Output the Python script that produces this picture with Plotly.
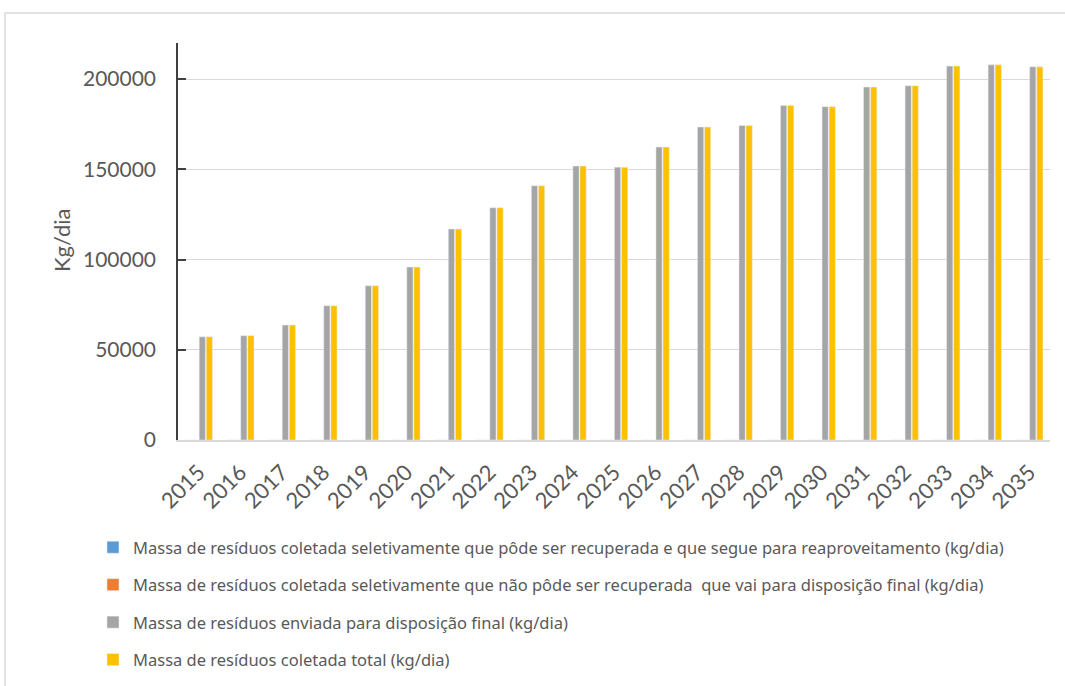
import plotly.graph_objects as go

years = [str(y) for y in range(2015, 2036)]
recuperada = [0] * 21
nao_recuperada = [0] * 21
disposicao_final = [57200, 57800, 63700, 74400, 85500, 95800, 116900, 128700, 140900, 151800,
                    151200, 162300, 173400, 174300, 185400, 184700, 195600, 196300, 207200, 207900, 206800]
coletada_total = [57200, 57800, 63700, 74400, 85500, 95800, 116900, 128700, 140900, 151800,
                  151200, 162300, 173400, 174300, 185400, 184700, 195600, 196300, 207200, 207900, 206800]

names = [
    "Massa de resíduos coletada seletivamente que pôde ser recuperada e que segue para reaproveitamento (kg/dia)",
    "Massa de resíduos coletada seletivamente que não pôde ser recuperada  que vai para disposição final (kg/dia)",
    "Massa de resíduos enviada para disposição final (kg/dia)",
    "Massa de resíduos coletada total (kg/dia)",
]
colors = ["#5b9bd5", "#ed7d31", "#a5a5a5", "#ffc000"]
series = [recuperada, nao_recuperada, disposicao_final, coletada_total]

fig = go.Figure()
for i, (n, c, s) in enumerate(zip(names, colors, series)):
    fig.add_trace(go.Bar(x=years, y=s, name=n, marker_color=c, legendgroup=f"g{i}"))

FONT = "Lato"
TXT = "#595959"
W, H = 1065, 686
L, R, T, B = 178, 15, 43, 246
pw, ph = W - L - R, H - T - B

def px_x(x):
    return (x - L) / pw

def px_y(y):
    return (H - B - y) / ph

fig.update_layout(
    width=W, height=H,
    margin=dict(l=L, r=R, t=T, b=B, autoexpand=False),
    paper_bgcolor="white", plot_bgcolor="white",
    barmode="group", bargap=0.32, bargroupgap=0.12,
    font=dict(family=FONT, color=TXT),
    showlegend=True,
    legend=dict(
        orientation="v", x=px_x(93), xanchor="left", y=px_y(530), yanchor="top",
        font=dict(size=16.5, color=TXT, family="Noto Sans"), traceorder="grouped", tracegroupgap=13,
        bgcolor="rgba(0,0,0,0)",
    ),
    xaxis=dict(
        type="category", tickangle=-45, tickfont=dict(size=22, color=TXT),
        showline=True, linecolor="#d9d9d9", linewidth=1.5, ticks="", showgrid=False,
        ticklabelstandoff=9,
    ),
    yaxis=dict(
        range=[0, 220000], dtick=50000, tick0=0, tickformat="d",
        tickfont=dict(size=21, color=TXT),
        showgrid=True, gridcolor="#d9d9d9", gridwidth=1,
        showline=True, linecolor="#404040", linewidth=1.5,
        ticks="inside", ticklen=8, tickcolor="#404040", tickwidth=1.5,
        zeroline=False, ticklabelstandoff=16,
    ),
    annotations=[dict(
        text="Kg/dia", x=px_x(62), y=px_y(241), xref="paper", yref="paper",
        textangle=-90, showarrow=False, font=dict(size=22, color=TXT),
        xanchor="center", yanchor="middle",
    )],
    shapes=[dict(
        type="rect", xref="paper", yref="paper",
        x0=px_x(5), x1=px_x(1100), y0=px_y(720), y1=px_y(13),
        line=dict(color="#d9d9d9", width=1.5), fillcolor="rgba(0,0,0,0)", layer="below",
    )],
)

fig.write_html("out.html")
